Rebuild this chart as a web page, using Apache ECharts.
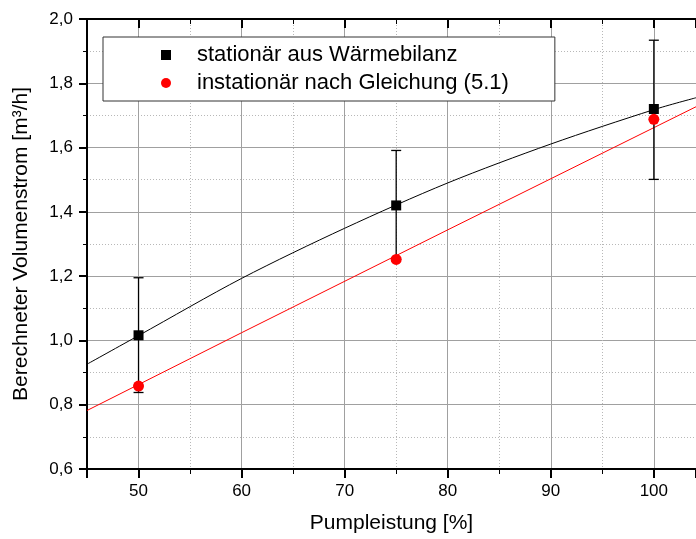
<!DOCTYPE html>
<html>
<head>
<meta charset="utf-8">
<script src="https://cdn.jsdelivr.net/npm/echarts@6/dist/echarts.min.js"></script>
<style>html,body{margin:0;padding:0;background:#fff}#c{width:696px;height:539px}</style>
</head>
<body>
<div id="c"></div>
<script>
// ---- data ----
const pump = [50, 75, 100];
const stationaer = [1.016, 1.42, 1.72];
const stationaerLow = [0.838, 1.252, 1.501];
const stationaerHigh = [1.195, 1.591, 1.934];
const instationaer = [0.858, 1.252, 1.688];

const blackFitX = [45, 50, 60, 70, 80, 90, 100, 104.09];
const blackFitY = [0.926, 1.015, 1.193, 1.349, 1.490, 1.611, 1.718, 1.755];
const redFitX = [45, 60, 80, 104.09];
const redFitY = [0.782, 1.024, 1.344, 1.727];

const seriesNames = ['stationär aus Wärmebilanz', 'instationär nach Gleichung (5.1)'];
const xTitle = 'Pumpleistung [%]';
const yTitle = 'Berechneter Volumenstrom [m³/h]';
const xRange = [45, 104.09];
const yRange = [0.6, 2.0];
const yStep = 0.2;

const zip = (a, b) => a.map((v, i) => [v, b[i]]);
const FONT = '"Liberation Sans", Arial, sans-serif';

const chart = echarts.init(document.getElementById('c'), null, {renderer: 'canvas'});
chart.setOption({
  animation: false,
  backgroundColor: '#fff',
  textStyle: {fontFamily: FONT, color: '#000'},
  grid: {left: 87, right: 0, top: 19, bottom: 70},
  legend: {
    orient: 'vertical',
    left: 103, top: 37,
    padding: [6, 46, 6, 58],
    itemWidth: 10, itemHeight: 10, itemGap: 4,
    borderColor: '#333', borderWidth: 1, backgroundColor: '#fff',
    textStyle: {fontFamily: FONT, fontSize: 22, lineHeight: 24, color: '#000', padding: [0, 0, 0, 21]},
    data: seriesNames
  },
  xAxis: [{
    type: 'value', min: xRange[0], max: xRange[1], splitNumber: 5,
    name: xTitle, nameLocation: 'middle', nameGap: 44,
    nameTextStyle: {fontFamily: FONT, fontSize: 21, color: '#000'},
    axisLine: {show: true, onZero: false, lineStyle: {color: '#000', width: 2}},
    axisTick: {show: true, inside: false, length: 9, lineStyle: {color: '#000', width: 2}},
    minorTick: {show: true, splitNumber: 2, length: 5, lineStyle: {color: '#000', width: 1}},
    axisLabel: {fontFamily: FONT, fontSize: 17, color: '#000', margin: 14, showMinLabel: false, showMaxLabel: false,
      formatter: v => (Math.abs(v % 10) < 1e-6 ? String(Math.round(v)) : '')},
    splitLine: {show: true, lineStyle: {color: '#a0a0a0', width: 1}},
    minorSplitLine: {show: true, lineStyle: {color: '#b8b8b8', width: 1, type: [1, 2]}}
  }, {
    type: 'value', position: 'top', min: xRange[0], max: xRange[1], splitNumber: 5,
    axisLine: {show: true, onZero: false, lineStyle: {color: '#000', width: 2}},
    axisTick: {show: true, inside: true, length: 9, lineStyle: {color: '#000', width: 2}},
    minorTick: {show: true, splitNumber: 2, length: 5, lineStyle: {color: '#000', width: 1}},
    axisLabel: {show: false},
    splitLine: {show: false}
  }],
  yAxis: {
    type: 'value', min: yRange[0], max: yRange[1], interval: yStep,
    name: yTitle, nameLocation: 'middle', nameGap: 55,
    nameTextStyle: {fontFamily: FONT, fontSize: 21, color: '#000'},
    axisLine: {show: true, onZero: false, lineStyle: {color: '#000', width: 2}},
    axisTick: {show: true, inside: false, length: 8, lineStyle: {color: '#000', width: 2}},
    minorTick: {show: true, splitNumber: 2, length: 4, lineStyle: {color: '#000', width: 1}},
    axisLabel: {fontFamily: FONT, fontSize: 17, color: '#000', margin: 14,
      formatter: v => v.toFixed(1).replace('.', ',')},
    splitLine: {show: true, lineStyle: {color: '#a0a0a0', width: 1}},
    minorSplitLine: {show: true, lineStyle: {color: '#b8b8b8', width: 1, type: [1, 2]}}
  },
  series: [
    {
      type: 'line', name: 'fitBlack', data: zip(blackFitX, blackFitY), smooth: 0.3,
      symbol: 'none', lineStyle: {color: '#000', width: 1}, z: 3, silent: true
    },
    {
      type: 'line', name: 'fitRed', data: zip(redFitX, redFitY),
      symbol: 'none', lineStyle: {color: '#ff0000', width: 1}, z: 3, silent: true
    },
    {
      type: 'custom', name: 'err', z: 4,
      data: pump.map((x, i) => [x, stationaerLow[i], stationaerHigh[i]]),
      renderItem: (params, api) => {
        const x = api.value(0);
        const lo = api.coord([x, api.value(1)]);
        const hi = api.coord([x, api.value(2)]);
        const hw = 5;
        const st = {stroke: '#000', lineWidth: 1.3};
        return {type: 'group', children: [
          {type: 'line', shape: {x1: lo[0], y1: lo[1], x2: hi[0], y2: hi[1]}, style: st},
          {type: 'line', shape: {x1: lo[0] - hw, y1: lo[1], x2: lo[0] + hw, y2: lo[1]}, style: st},
          {type: 'line', shape: {x1: hi[0] - hw, y1: hi[1], x2: hi[0] + hw, y2: hi[1]}, style: st}
        ]};
      }
    },
    {
      type: 'scatter', name: seriesNames[0], data: zip(pump, stationaer),
      symbol: 'rect', symbolSize: 10, itemStyle: {color: '#000', opacity: 1}, z: 5
    },
    {
      type: 'scatter', name: seriesNames[1], data: zip(pump, instationaer),
      symbol: 'circle', symbolSize: 11, itemStyle: {color: '#ff0000', opacity: 1}, z: 6
    }
  ]
});
</script>
</body>
</html>
